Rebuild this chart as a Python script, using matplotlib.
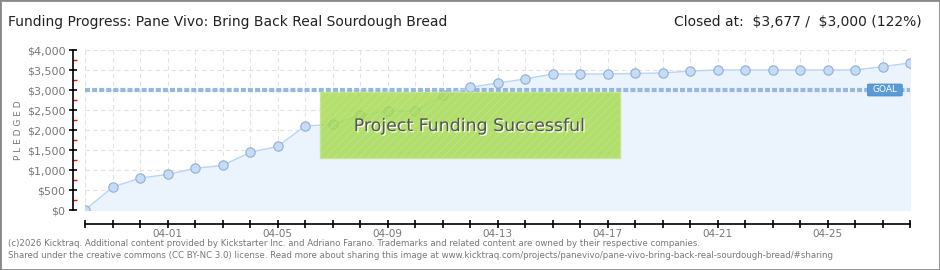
import matplotlib
matplotlib.use("Agg")
import matplotlib.pyplot as plt
from matplotlib.patches import Rectangle, FancyBboxPatch
from matplotlib.ticker import MultipleLocator, FuncFormatter
import matplotlib.patheffects as pe
import numpy as np

# daily pledged totals, 03-29 .. 04-28
dates = ['03-29', '03-30', '03-31', '04-01', '04-02', '04-03', '04-04', '04-05',
         '04-06', '04-07', '04-08', '04-09', '04-10', '04-11', '04-12', '04-13',
         '04-14', '04-15', '04-16', '04-17', '04-18', '04-19', '04-20', '04-21',
         '04-22', '04-23', '04-24', '04-25', '04-26', '04-27', '04-28']
pledged = [0, 570, 800, 890, 1040, 1115, 1440, 1590,
           2100, 2140, 2365, 2475, 2475, 2865, 3065, 3175,
           3275, 3400, 3400, 3400, 3415, 3425, 3475, 3500,
           3500, 3500, 3500, 3500, 3500, 3585, 3677]
goal = 3000
label_every = 4
first_label = 3  # 04-01

gray = '#777777'
plt.rcParams['hatch.color'] = '#99cc44'
plt.rcParams['hatch.linewidth'] = 0.6

fig = plt.figure(figsize=(9.4, 2.7), dpi=100)
fig.patches.append(Rectangle((0, 0), 1, 1, transform=fig.transFigure, fill=False,
                             edgecolor='#888888', linewidth=2))

ax = fig.add_axes([85 / 940, 1 - 210 / 270, 825 / 940, 160 / 270])
x = np.arange(len(pledged))

ax.fill_between(x, pledged, 0, color='#ebf3fc', zorder=1)
ax.plot(x, pledged, color='#b9d5f2', linewidth=1, zorder=3)
ax.scatter(x, pledged, s=45, color='#c4dcf7', edgecolor='#93aed0', linewidth=0.8, zorder=4)

# goal line
ax.plot([x[0], x[-1]], [goal, goal], color='#94b8df', linestyle=(0, (1.2, 0.5)),
        linewidth=3, zorder=2)
ax.add_patch(FancyBboxPatch((len(x) - 2.55, goal - 150), 1.27, 300,
                            boxstyle='round,pad=0,rounding_size=0.08',
                            facecolor='#5b9bd5', edgecolor='#4a88c4', linewidth=0.5,
                            zorder=5, mutation_aspect=250))
ax.text(len(x) - 1.92, goal, 'GOAL', color='white', fontsize=6.5,
        ha='center', va='center', zorder=6)

ax.set_xlim(0, len(x) - 1)
ax.set_ylim(0, 4000)

ax.grid(True, linestyle=(0, (4, 3)), color='#e2e2e2', linewidth=0.8)
ax.set_axisbelow(True)
ax.yaxis.set_major_locator(MultipleLocator(500))
ax.yaxis.set_minor_locator(MultipleLocator(250))
ax.yaxis.set_major_formatter(FuncFormatter(lambda v, p: r'\${:,.0f}'.format(v)))
ax.set_xticks(x)
ax.set_xticklabels([d if (i - first_label) % label_every == 0 and i >= first_label else ''
                    for i, d in enumerate(dates)])

for s in ['top', 'right']:
    ax.spines[s].set_visible(False)
ax.spines['left'].set_position(('outward', 9))
ax.spines['bottom'].set_position(('outward', 10))
ax.spines['left'].set_linewidth(1.2)
ax.spines['bottom'].set_linewidth(1.2)
ax.tick_params(axis='y', which='major', direction='inout', length=6, width=1.2,
               labelsize=8, labelcolor=gray, pad=2)
ax.tick_params(axis='y', which='minor', direction='in', length=3, width=1, color='red')
ax.tick_params(axis='x', direction='inout', length=6, width=1.2, labelsize=7.5,
               labelcolor=gray, pad=1)
ax.set_ylabel('P L E D G E D', fontsize=6.5, color=gray, labelpad=3)

# success banner
fig.patches.append(Rectangle((320 / 940, 1 - 158 / 270), 300 / 940, 66 / 270,
                             transform=fig.transFigure, facecolor='#a5da4e',
                             edgecolor='#c4e68a', linewidth=1, alpha=0.82,
                             hatch='////', zorder=10))
fig.text(470 / 940, 1 - 126 / 270, 'Project Funding Successful', fontsize=12.5,
         color='#555555', ha='center', va='center', zorder=11,
         path_effects=[pe.withSimplePatchShadow(offset=(1, -1), shadow_rgbFace='white', alpha=0.9)])

fig.text(8 / 940, 1 - 22 / 270, 'Funding Progress: Pane Vivo: Bring Back Real Sourdough Bread',
         fontsize=10, color='#222222', va='center')
fig.text(922 / 940, 1 - 22 / 270, r'Closed at:  \$3,677 /  \$3,000 (122%)',
         fontsize=10, color='#222222', va='center', ha='right')

fig.text(8 / 940, 1 - 243 / 270,
         '(c)2026 Kicktraq. Additional content provided by Kickstarter Inc. and Adriano Farano. '
         'Trademarks and related content are owned by their respective companies.',
         fontsize=6.2, color=gray, va='center')
fig.text(8 / 940, 1 - 256 / 270,
         'Shared under the creative commons (CC BY-NC 3.0) license. Read more about sharing this image at '
         'www.kicktraq.com/projects/panevivo/pane-vivo-bring-back-real-sourdough-bread/#sharing',
         fontsize=6.2, color=gray, va='center')

fig.savefig('out.png', dpi=100)
